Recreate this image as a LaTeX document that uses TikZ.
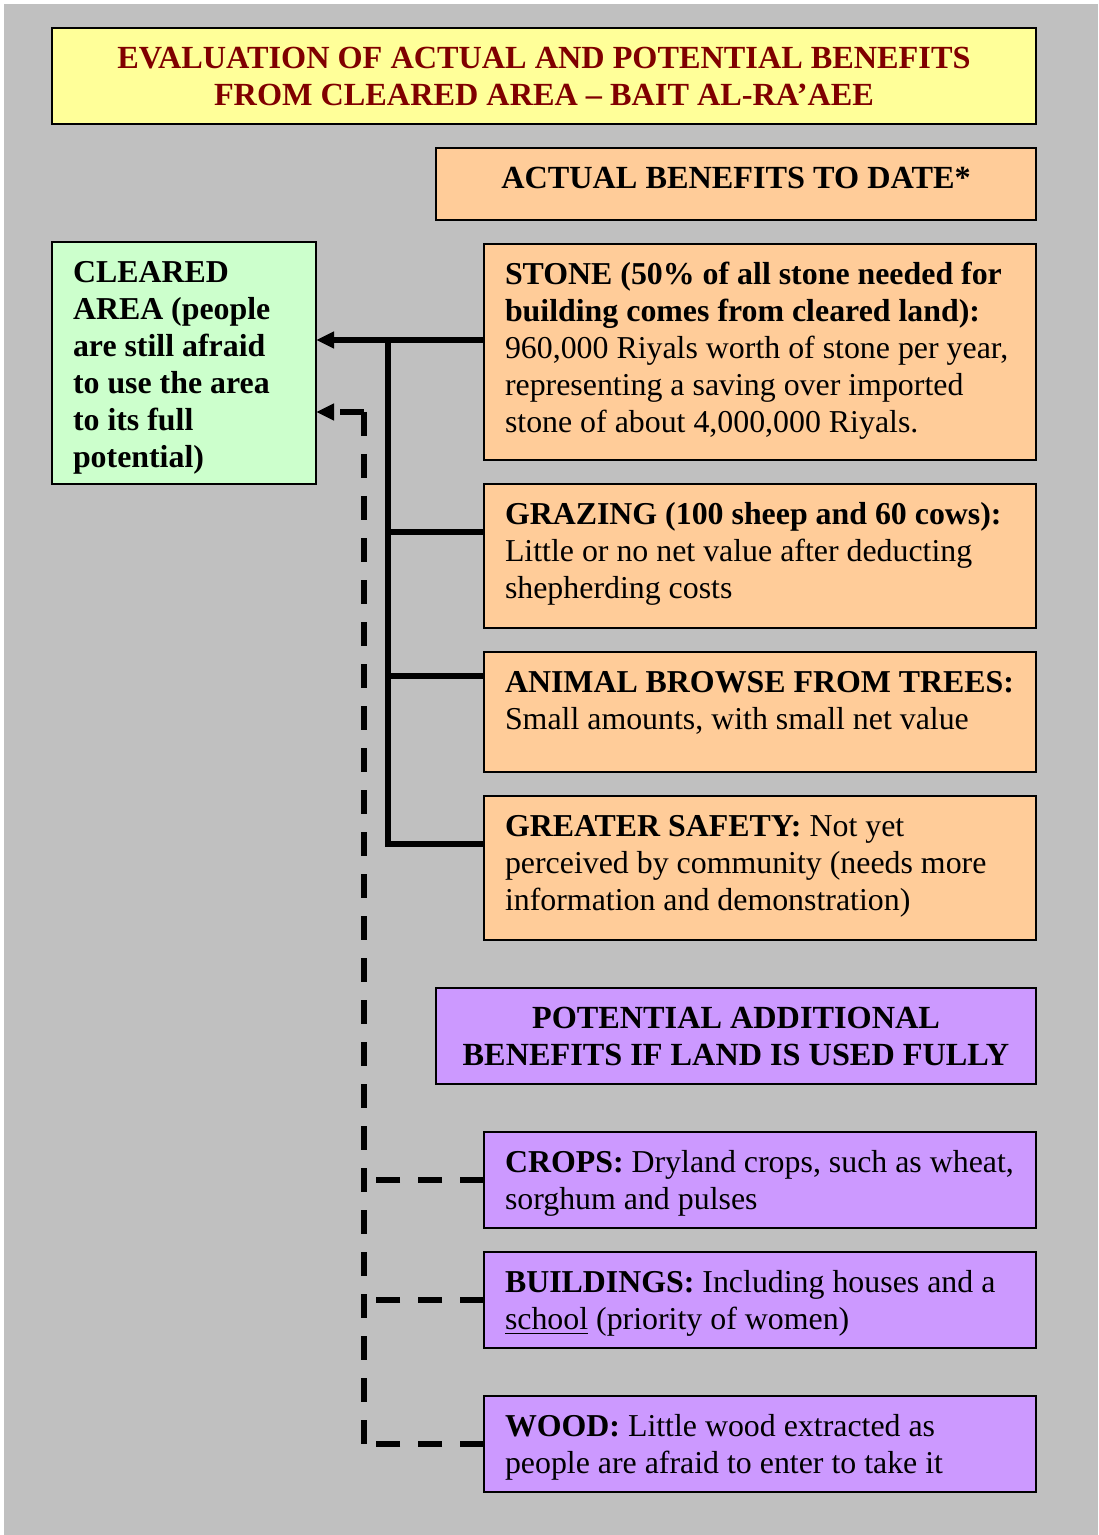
\documentclass[tikz,border=0pt]{standalone}
\usepackage{fontspec}
\setmainfont{Liberation Serif}
\usetikzlibrary{arrows.meta,calc}
\definecolor{bggray}{HTML}{C0C0C0}
\definecolor{titlefill}{HTML}{FFFF99}
\definecolor{titletext}{HTML}{800000}
\definecolor{orangefill}{HTML}{FFCC99}
\definecolor{greenfill}{HTML}{CCFFCC}
\definecolor{purplefill}{HTML}{CC99FF}
\tikzset{
  box/.style={draw=black,line width=0.8pt,rectangle,inner sep=0pt,outer sep=0pt},
  thickbox/.style={line width=1pt},
  txt/.style={inner sep=0pt,outer sep=0pt,align=left,font=\fontsize{11.95}{13.85}\selectfont},
  ctxt/.style={inner sep=0pt,outer sep=0pt,align=center,font=\fontsize{12.1}{13.85}\selectfont\bfseries},
  link/.style={line width=2.25pt},
  dlink/.style={line width=2.25pt,dash pattern=on 9pt off 6.75pt},
  arr/.style={-{Triangle[length=6.75pt,width=6pt]}}
}
% name, x, y, w, h, style, text
\newcommand\leftbox[7]{%
  \node[box,#6,minimum width=#4*0.375pt,minimum height=#5*0.375pt,anchor=north west] (#1) at (#2,#3) {};
  \node[txt,anchor=north west] (#1t) at ($(#1.north west)+(21,15)$) {\strut#7};}
\newcommand\centerbox[7]{%
  \node[box,#6,minimum width=#4*0.375pt,minimum height=#5*0.375pt,anchor=north west] (#1) at (#2,#3) {};
  \node[ctxt,anchor=north] (#1t) at ($(#1.north)+(0,15)$) {\strut#7};}
\begin{document}
\begin{tikzpicture}[x=0.375pt,y=-0.375pt]
\useasboundingbox (0,0) rectangle (1098,1535);
\fill[white] (0,0) rectangle (1098,1535);
\fill[bggray] (4,4) rectangle (1098,1535);

\centerbox{title}{52}{28}{984}{96}{fill=titlefill,thickbox}{\color{titletext}EVALUATION OF ACTUAL AND POTENTIAL BENEFITS\\\color{titletext}FROM CLEARED AREA -- BAIT AL-RA’AEE}
\centerbox{actual}{436}{148}{600}{72}{fill=orangefill,thickbox}{ACTUAL BENEFITS TO DATE*}
\leftbox{green}{52}{242}{264}{242}{fill=greenfill}{\bfseries CLEARED\\\bfseries AREA (people\\\bfseries are still afraid\\\bfseries to use the area\\\bfseries to its full\\\bfseries potential)}
\leftbox{stone}{484}{244}{552}{216}{fill=orangefill}{\textbf{STONE (50\% of all stone needed for}\\\textbf{building comes from cleared land):}\\960,000 Riyals worth of stone per year,\\representing a saving over imported\\stone of about 4,000,000 Riyals.}
\leftbox{grazing}{484}{484}{552}{144}{fill=orangefill}{\textbf{GRAZING (100 sheep and 60 cows):}\\Little or no net value after deducting\\shepherding costs}
\leftbox{animal}{484}{652}{552}{120}{fill=orangefill}{\textbf{ANIMAL BROWSE FROM TREES:}\\Small amounts, with small net value}
\leftbox{safety}{484}{796}{552}{144}{fill=orangefill}{\textbf{GREATER SAFETY:} Not yet\\perceived by community (needs more\\information and demonstration)}
\centerbox{potential}{436}{988}{600}{96}{fill=purplefill}{POTENTIAL ADDITIONAL\\BENEFITS IF LAND IS USED FULLY}
\leftbox{crops}{484}{1132}{552}{96}{fill=purplefill}{\textbf{CROPS:} Dryland crops, such as wheat,\\sorghum and pulses}
\leftbox{buildings}{484}{1252}{552}{96}{fill=purplefill}{\textbf{BUILDINGS:} Including houses and a\\\underline{school} (priority of women)}
\leftbox{wood}{484}{1396}{552}{96}{fill=purplefill}{\textbf{WOOD:} Little wood extracted as\\people are afraid to enter to take it}

% solid connectors (actual benefits)
\coordinate (j1) at (388,340);
\coordinate (j2) at (388,532);
\coordinate (j3) at (388,676);
\coordinate (j4) at (388,844);
\draw[link,arr] (stone.west |- j1) -- (green.east |- j1);
\draw[link] (j1) -- (j4) -- (safety.west |- j4);
\draw[link] (j2) -- (grazing.west |- j2);
\draw[link] (j3) -- (animal.west |- j3);

% dashed connectors (potential benefits)
\coordinate (d0) at (364,412);
\coordinate (d3) at (364,1444);
\draw[dlink,arr] (d0) -- (green.east |- d0);
\draw[dlink] (d0) -- (d3);
\draw[dlink] (crops.west) -- (crops.west -| d0);
\draw[dlink] (buildings.west) -- (buildings.west -| d0);
\draw[dlink] (wood.west) -- (d3);
\end{tikzpicture}
\end{document}
